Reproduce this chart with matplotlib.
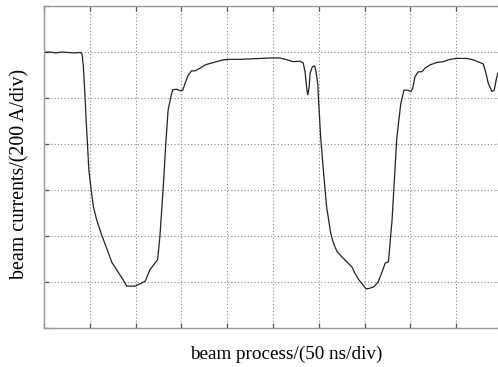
import matplotlib
matplotlib.use("Agg")
import matplotlib.pyplot as plt

plt.rcParams['font.family'] = ['Liberation Serif', 'DejaVu Serif']

# time in divisions (50 ns/div), current in divisions (200 A/div)
time_div = [0.00, 0.13, 0.26, 0.39, 0.52, 0.66, 0.79, 0.83, 0.86, 0.90,
            0.92, 0.95, 0.98, 1.03, 1.08, 1.15, 1.26, 1.40, 1.48, 1.59,
            1.70, 1.81, 1.88, 1.99, 2.10, 2.21, 2.31, 2.42, 2.48, 2.53,
            2.60, 2.66, 2.71, 2.77, 2.81, 2.90, 2.97, 3.03, 3.08, 3.15,
            3.22, 3.30, 3.41, 3.52, 3.62, 3.77, 3.91, 4.06, 4.28, 4.50,
            4.72, 4.93, 5.15, 5.31, 5.44, 5.59, 5.66, 5.70, 5.74, 5.76,
            5.79, 5.81, 5.86, 5.91, 5.94, 5.98, 5.99, 6.04, 6.10, 6.17,
            6.26, 6.30, 6.35, 6.40, 6.50, 6.61, 6.72, 6.79, 6.88, 6.97,
            7.03, 7.10, 7.21, 7.30, 7.37, 7.45, 7.52, 7.55, 7.58, 7.60,
            7.65, 7.70, 7.74, 7.79, 7.86, 7.95, 8.01, 8.05, 8.10, 8.17,
            8.25, 8.32, 8.43, 8.57, 8.72, 8.86, 9.01, 9.23, 9.37, 9.52,
            9.59, 9.65, 9.70, 9.78, 9.83, 9.88, 9.91]
current_div = [5.99, 6.00, 5.98, 6.00, 5.99, 5.98, 5.99, 5.96, 5.68, 4.96,
               4.52, 3.98, 3.43, 3.00, 2.63, 2.35, 2.02, 1.65, 1.43, 1.26,
               1.09, 0.91, 0.91, 0.91, 0.96, 1.02, 1.26, 1.41, 1.48, 1.98,
               3.00, 4.02, 4.74, 5.03, 5.18, 5.19, 5.16, 5.17, 5.32, 5.50,
               5.59, 5.59, 5.65, 5.72, 5.75, 5.79, 5.83, 5.84, 5.84, 5.85,
               5.86, 5.87, 5.87, 5.83, 5.79, 5.80, 5.76, 5.57, 5.17, 5.07,
               5.24, 5.54, 5.68, 5.70, 5.57, 5.28, 5.03, 4.16, 3.43, 2.64,
               2.06, 1.91, 1.77, 1.66, 1.55, 1.44, 1.33, 1.19, 1.04, 0.93,
               0.85, 0.86, 0.90, 1.01, 1.19, 1.41, 1.44, 1.77, 2.13, 2.35,
               3.22, 4.09, 4.45, 4.88, 5.17, 5.17, 5.14, 5.21, 5.46, 5.57,
               5.57, 5.65, 5.72, 5.77, 5.79, 5.84, 5.86, 5.86, 5.83, 5.77,
               5.74, 5.54, 5.32, 5.14, 5.17, 5.43, 5.54]

x_divisions = list(range(0, 11))
y_divisions = list(range(0, 8))

fig = plt.figure(figsize=(4.98, 3.67), dpi=100)
ax = fig.add_axes([44/498, 39/367, 458/498, 322/367])

ax.plot(time_div, current_div, color='#222222', linewidth=0.9)

ax.set_xlim(0, 10)
ax.set_ylim(0, 7)
ax.set_xticks(x_divisions)
ax.set_yticks(y_divisions)
ax.set_xticklabels([])
ax.set_yticklabels([])
ax.tick_params(direction='in', length=3.5, width=0.9, color='#555555',
               top=True, right=True, bottom=True, left=True)
ax.grid(True, linestyle=(0, (1, 2)), color='#888888', linewidth=0.8)
for s in ax.spines.values():
    s.set_color('#999999')
    s.set_linewidth(1.0)

ax.set_xlabel('beam process/(50 ns/div)', fontsize=13.8, labelpad=9)
ax.set_ylabel('beam currents/(200 A/div)', fontsize=14.3, labelpad=7)
ax.xaxis.label.set_x(0.528)
ax.yaxis.label.set_y(0.48)

fig.savefig('out.png', dpi=100)
